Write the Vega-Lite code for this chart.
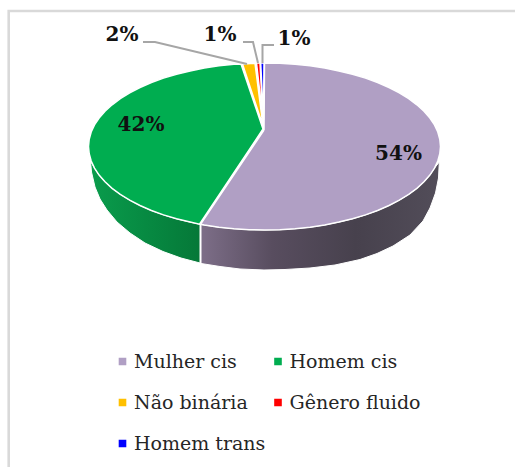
{"$schema":"https://vega.github.io/schema/vega-lite/v6.json","width":515,"height":467,"padding":0,"autosize":{"type":"none"},"background":"white","config":{"view":{"stroke":null}},
"datasets":{
"frame":[{"x":515,"y":11},{"x":8.7,"y":11},{"x":8.7,"y":467}],
"sidePurple":[{"i":0,"x":201,"y":224.5},{"i":1,"x":218.9,"y":227.2},{"i":2,"x":233.9,"y":228.7},{"i":3,"x":249.2,"y":229.7},{"i":4,"x":264.5,"y":230},{"i":5,"x":279.8,"y":229.7},{"i":6,"x":295.1,"y":228.7},{"i":7,"x":310.1,"y":227.2},{"i":8,"x":324.7,"y":225},{"i":9,"x":338.9,"y":222.1},{"i":10,"x":352.5,"y":218.8},{"i":11,"x":365.5,"y":214.9},{"i":12,"x":377.6,"y":210.5},{"i":13,"x":389,"y":205.5},{"i":14,"x":399.3,"y":200.2},{"i":15,"x":408.7,"y":194.4},{"i":16,"x":416.9,"y":188.3},{"i":17,"x":424,"y":181.8},{"i":18,"x":429.9,"y":175.1},{"i":19,"x":434.5,"y":168.1},{"i":20,"x":439.3,"y":162},{"i":21,"x":438.5,"y":178},{"i":22,"x":435.5,"y":193},{"i":23,"x":430,"y":208},{"i":24,"x":423,"y":221},{"i":25,"x":410,"y":235},{"i":26,"x":393,"y":246},{"i":27,"x":377,"y":253.5},{"i":28,"x":360,"y":259.5},{"i":29,"x":335,"y":265},{"i":30,"x":310,"y":268},{"i":31,"x":285,"y":269.5},{"i":32,"x":264,"y":270},{"i":33,"x":240,"y":269},{"i":34,"x":220,"y":266.5},{"i":35,"x":201,"y":263.5},{"i":36,"x":201,"y":224.5}],
"sideGreen":[{"i":0,"x":90.5,"y":161},{"i":1,"x":94.5,"y":168.1},{"i":2,"x":99.1,"y":175.1},{"i":3,"x":105,"y":181.8},{"i":4,"x":112.1,"y":188.3},{"i":5,"x":120.3,"y":194.4},{"i":6,"x":129.7,"y":200.2},{"i":7,"x":140,"y":205.5},{"i":8,"x":151.4,"y":210.5},{"i":9,"x":163.5,"y":214.9},{"i":10,"x":176.5,"y":218.8},{"i":11,"x":190.1,"y":222.1},{"i":12,"x":200,"y":224.3},{"i":13,"x":200,"y":263},{"i":14,"x":181,"y":258},{"i":15,"x":163,"y":251.5},{"i":16,"x":145,"y":243},{"i":17,"x":130,"y":233},{"i":18,"x":117,"y":222},{"i":19,"x":107,"y":210},{"i":20,"x":100,"y":199},{"i":21,"x":95,"y":187},{"i":22,"x":91.5,"y":172},{"i":23,"x":90.5,"y":161}],
"slices":[
{"category":"Mulher cis","share":54,"i":-1,"x":264,"y":130},{"category":"Mulher cis","share":54,"i":0,"x":264.5,"y":63},{"category":"Mulher cis","share":54,"i":5,"x":279.8,"y":63.3},{"category":"Mulher cis","share":54,"i":10,"x":295.1,"y":64.3},{"category":"Mulher cis","share":54,"i":15,"x":310.1,"y":65.8},{"category":"Mulher cis","share":54,"i":20,"x":324.7,"y":68},{"category":"Mulher cis","share":54,"i":25,"x":338.9,"y":70.9},{"category":"Mulher cis","share":54,"i":30,"x":352.5,"y":74.2},{"category":"Mulher cis","share":54,"i":35,"x":365.5,"y":78.1},{"category":"Mulher cis","share":54,"i":40,"x":377.6,"y":82.5},{"category":"Mulher cis","share":54,"i":45,"x":389,"y":87.5},{"category":"Mulher cis","share":54,"i":50,"x":399.3,"y":92.8},{"category":"Mulher cis","share":54,"i":55,"x":408.7,"y":98.6},{"category":"Mulher cis","share":54,"i":60,"x":416.9,"y":104.8},{"category":"Mulher cis","share":54,"i":65,"x":424,"y":111.2},{"category":"Mulher cis","share":54,"i":70,"x":429.9,"y":118},{"category":"Mulher cis","share":54,"i":75,"x":434.5,"y":124.9},{"category":"Mulher cis","share":54,"i":80,"x":437.8,"y":132},{"category":"Mulher cis","share":54,"i":85,"x":439.8,"y":139.2},{"category":"Mulher cis","share":54,"i":90,"x":440.5,"y":146.5},{"category":"Mulher cis","share":54,"i":95,"x":439.8,"y":153.8},{"category":"Mulher cis","share":54,"i":100,"x":437.8,"y":161},{"category":"Mulher cis","share":54,"i":105,"x":434.5,"y":168.1},{"category":"Mulher cis","share":54,"i":110,"x":429.9,"y":175.1},{"category":"Mulher cis","share":54,"i":115,"x":424,"y":181.8},{"category":"Mulher cis","share":54,"i":120,"x":416.9,"y":188.3},{"category":"Mulher cis","share":54,"i":125,"x":408.7,"y":194.4},{"category":"Mulher cis","share":54,"i":130,"x":399.3,"y":200.2},{"category":"Mulher cis","share":54,"i":135,"x":389,"y":205.5},{"category":"Mulher cis","share":54,"i":140,"x":377.6,"y":210.5},{"category":"Mulher cis","share":54,"i":145,"x":365.5,"y":214.9},{"category":"Mulher cis","share":54,"i":150,"x":352.5,"y":218.8},{"category":"Mulher cis","share":54,"i":155,"x":338.9,"y":222.1},{"category":"Mulher cis","share":54,"i":160,"x":324.7,"y":225},{"category":"Mulher cis","share":54,"i":165,"x":310.1,"y":227.2},{"category":"Mulher cis","share":54,"i":170,"x":295.1,"y":228.7},{"category":"Mulher cis","share":54,"i":175,"x":279.8,"y":229.7},{"category":"Mulher cis","share":54,"i":180,"x":264.5,"y":230},{"category":"Mulher cis","share":54,"i":185,"x":249.2,"y":229.7},{"category":"Mulher cis","share":54,"i":190,"x":233.9,"y":228.7},{"category":"Mulher cis","share":54,"i":195,"x":218.9,"y":227.2},{"category":"Mulher cis","share":54,"i":200,"x":204.3,"y":225},{"category":"Mulher cis","share":54,"i":201,"x":200.5,"y":224.3},{"category":"Mulher cis","share":54,"i":300,"x":264,"y":130},
{"category":"Homem cis","share":42,"i":-1,"x":263,"y":129},{"category":"Homem cis","share":42,"i":201,"x":199.5,"y":224.2},{"category":"Homem cis","share":42,"i":205,"x":190.1,"y":222.1},{"category":"Homem cis","share":42,"i":210,"x":176.5,"y":218.8},{"category":"Homem cis","share":42,"i":215,"x":163.5,"y":214.9},{"category":"Homem cis","share":42,"i":220,"x":151.4,"y":210.5},{"category":"Homem cis","share":42,"i":225,"x":140,"y":205.5},{"category":"Homem cis","share":42,"i":230,"x":129.7,"y":200.2},{"category":"Homem cis","share":42,"i":235,"x":120.3,"y":194.4},{"category":"Homem cis","share":42,"i":240,"x":112.1,"y":188.3},{"category":"Homem cis","share":42,"i":245,"x":105,"y":181.8},{"category":"Homem cis","share":42,"i":250,"x":99.1,"y":175.1},{"category":"Homem cis","share":42,"i":255,"x":94.5,"y":168.1},{"category":"Homem cis","share":42,"i":260,"x":91.2,"y":161},{"category":"Homem cis","share":42,"i":265,"x":89.2,"y":153.8},{"category":"Homem cis","share":42,"i":270,"x":88.5,"y":146.5},{"category":"Homem cis","share":42,"i":275,"x":89.2,"y":139.2},{"category":"Homem cis","share":42,"i":280,"x":91.2,"y":132},{"category":"Homem cis","share":42,"i":285,"x":94.5,"y":124.9},{"category":"Homem cis","share":42,"i":290,"x":99.1,"y":118},{"category":"Homem cis","share":42,"i":295,"x":105,"y":111.2},{"category":"Homem cis","share":42,"i":300,"x":112.1,"y":104.8},{"category":"Homem cis","share":42,"i":305,"x":120.3,"y":98.6},{"category":"Homem cis","share":42,"i":310,"x":129.7,"y":92.8},{"category":"Homem cis","share":42,"i":315,"x":140,"y":87.5},{"category":"Homem cis","share":42,"i":320,"x":151.4,"y":82.5},{"category":"Homem cis","share":42,"i":325,"x":163.5,"y":78.1},{"category":"Homem cis","share":42,"i":330,"x":176.5,"y":74.2},{"category":"Homem cis","share":42,"i":335,"x":190.1,"y":70.9},{"category":"Homem cis","share":42,"i":340,"x":204.3,"y":68},{"category":"Homem cis","share":42,"i":345,"x":218.9,"y":65.8},{"category":"Homem cis","share":42,"i":350,"x":233.9,"y":64.3},{"category":"Homem cis","share":42,"i":351,"x":241,"y":64},{"category":"Homem cis","share":42,"i":400,"x":263,"y":129},
{"category":"Não binária","share":2,"i":0,"x":263,"y":126},{"category":"Não binária","share":2,"i":1,"x":242.5,"y":64},{"category":"Não binária","share":2,"i":2,"x":255,"y":63.2},{"category":"Não binária","share":2,"i":3,"x":263,"y":126},
{"category":"Gênero fluido","share":1,"i":0,"x":263,"y":120},{"category":"Gênero fluido","share":1,"i":1,"x":256.5,"y":63.1},{"category":"Gênero fluido","share":1,"i":2,"x":260,"y":63},{"category":"Gênero fluido","share":1,"i":3,"x":263,"y":120},
{"category":"Homem trans","share":1,"i":0,"x":263.5,"y":120},{"category":"Homem trans","share":1,"i":1,"x":260.7,"y":63},{"category":"Homem trans","share":1,"i":2,"x":264,"y":63},{"category":"Homem trans","share":1,"i":3,"x":263.5,"y":120}],
"leaders":[{"k":"a","i":0,"x":143,"y":42},{"k":"a","i":1,"x":155,"y":42},{"k":"a","i":2,"x":247,"y":64},{"k":"b","i":0,"x":243,"y":42},{"k":"b","i":1,"x":253,"y":42},{"k":"b","i":2,"x":258,"y":63},{"k":"c","i":0,"x":274,"y":45},{"k":"c","i":1,"x":262.5,"y":45},{"k":"c","i":2,"x":262.5,"y":63}],
"labels":[{"t":"54%","x":398.5,"y":153.5},{"t":"42%","x":141,"y":125},{"t":"2%","x":122,"y":35},{"t":"1%","x":220,"y":35},{"t":"1%","x":294,"y":39}]},
"layer":[
{"data":{"name":"frame"},"mark":{"type":"line","color":"#D9D9D9","strokeWidth":2.6},"encoding":{"x":{"field":"x","type":"quantitative","scale":{"domain":[0,515],"nice":false,"zero":false},"axis":null},"y":{"field":"y","type":"quantitative","scale":{"domain":[467,0],"nice":false,"zero":false},"axis":null},"order":{"field":"x","sort":"descending"}}},
{"data":{"name":"sidePurple"},"mark":{"type":"line","filled":true,"stroke":"white","strokeWidth":1,"fill":{"gradient":"linear","x1":0,"y1":0,"x2":1,"y2":0,"stops":[{"offset":0,"color":"#7D6E88"},{"offset":0.3,"color":"#584D5F"},{"offset":0.65,"color":"#47414D"},{"offset":1,"color":"#524D59"}]}},"encoding":{"x":{"field":"x","type":"quantitative"},"y":{"field":"y","type":"quantitative"},"order":{"field":"i"}}},
{"data":{"name":"sideGreen"},"mark":{"type":"line","filled":true,"stroke":"white","strokeWidth":1,"fill":{"gradient":"linear","x1":0,"y1":0,"x2":1,"y2":0,"stops":[{"offset":0,"color":"#0A9C4C"},{"offset":0.5,"color":"#078A42"},{"offset":1,"color":"#057838"}]}},"encoding":{"x":{"field":"x","type":"quantitative"},"y":{"field":"y","type":"quantitative"},"order":{"field":"i"}}},
{"data":{"name":"slices"},"mark":{"type":"line","filled":true,"stroke":"white","strokeWidth":1.5},"encoding":{"x":{"field":"x","type":"quantitative"},"y":{"field":"y","type":"quantitative"},"order":{"field":"i"},"detail":{"field":"category"},"color":{"field":"category","type":"nominal","scale":{"domain":["Mulher cis","Não binária","Homem trans","Homem cis","Gênero fluido"],"range":["#B09FC4","#FFC000","#0000FF","#00AD50","#FF0000"]},"legend":{"title":null,"orient":"none","legendX":113,"legendY":349,"columns":2,"symbolType":"square","symbolSize":58,"symbolStrokeWidth":0,"labelFont":"DejaVu Serif","labelFontSize":19,"labelColor":"#262626","labelOffset":2,"rowPadding":16,"columnPadding":2.5,"labelLimit":200,"clipHeight":25}}}},
{"data":{"name":"leaders"},"mark":{"type":"line","color":"#A6A6A6","strokeWidth":2},"encoding":{"x":{"field":"x","type":"quantitative"},"y":{"field":"y","type":"quantitative"},"order":{"field":"i"},"detail":{"field":"k"}}},
{"data":{"name":"labels"},"mark":{"type":"text","font":"DejaVu Serif","fontWeight":"bold","fontSize":20,"color":"#111111","align":"center","baseline":"middle"},"encoding":{"x":{"field":"x","type":"quantitative"},"y":{"field":"y","type":"quantitative"},"text":{"field":"t","type":"nominal"}}}
]}
